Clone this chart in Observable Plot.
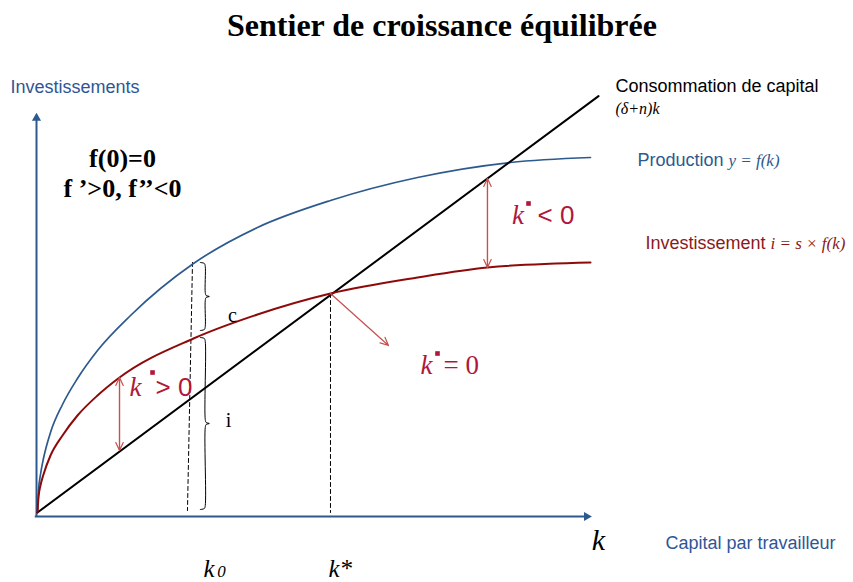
<!DOCTYPE html>
<html><head><meta charset="utf-8">
<script src="https://cdn.jsdelivr.net/npm/d3@7"></script>
<script src="https://cdn.jsdelivr.net/npm/@observablehq/plot@0.6"></script>
<style>
body{margin:0;background:#fff;width:853px;height:582px;overflow:hidden}
#title{height:50px;line-height:50px;text-align:center;padding-left:31px;font-family:"Liberation Serif","Times New Roman",serif;font-weight:bold;font-size:32px;color:#000;white-space:nowrap}
#chart svg{display:block}
</style></head><body>
<div id="title">Sentier de croissance équilibrée</div>
<div id="chart"></div>
<script>
// ---- data (k = capital per worker, v = amount, arbitrary units) ----
const kProd = [0, 0.18, 0.54, 1.08, 2.35, 4.52, 7.23, 10.85, 16.82, 28.21, 39.78, 52.98, 68.72, 85.53, 100];
const yProd = [0, 5.5, 9.5, 13.5, 20, 27, 33.5, 40.5, 49.25, 62.25, 71.25, 78, 83.75, 87.5, 88.75];
const kInv = [0, 0.18, 0.54, 1.08, 2.35, 4.52, 7.23, 10.85, 14.83, 28.21, 39.78, 52.98, 68.72, 81.37, 100];
const yInv = [0, 3.75, 6.75, 9.5, 14.25, 19.25, 24.25, 29.25, 33.75, 43.5, 49.5, 54.75, 58.75, 61.25, 62.5];
const kDep = [0, 101.45];
const yDep = [0, 104.1];

const kZero = [28.03, 27.12];   // k0 dashed guide (top, bottom)
const vZero = [62.5, 0.5];
const kStar = [52.98, 52.98];   // k* dashed guide
const vStar = [54.75, 0];

// braces: x, top, bottom
const braceX = [29.44, 29.44];
const braceTop = [62.5, 43.75];
const braceBottom = [45.5, 0.75];

// red arrows: x1,y1 -> x2,y2 (double headed ones drawn both ways)
const arrowK1 = [14.83, 81.37, 52.98];
const arrowV1 = [33.75, 83.5, 54.75];
const arrowK2 = [14.83, 81.37, 63.47];
const arrowV2 = [15.5, 61.25, 41.75];
const arrowDouble = [true, true, false];

// ---- build tables ----
const prod = kProd.map((k, i) => ({k, v: yProd[i]}));
const inv = kInv.map((k, i) => ({k, v: yInv[i]}));
const dep = kDep.map((k, i) => ({k, v: yDep[i]}));
const guides = [
  ...kZero.map((k, i) => ({g: "k0", k, v: vZero[i]})),
  ...kStar.map((k, i) => ({g: "ks", k, v: vStar[i]}))
];
const w = 1.63;
const braces = braceX.flatMap((x, b) => {
  const y0 = braceTop[b], y1 = braceBottom[b], ym = (y0 + y1) / 2;
  return [
    [x, y0], [x + 0.45 * w, y0 - 0.25], [x + 0.55 * w, y0 - 1.0],
    [x + 0.55 * w, ym + 1.0], [x + 0.65 * w, ym + 0.25], [x + w, ym],
    [x + 0.65 * w, ym - 0.25], [x + 0.55 * w, ym - 1.0],
    [x + 0.55 * w, y1 + 1.0], [x + 0.45 * w, y1 + 0.25], [x, y1]
  ].map(([px, py]) => ({b, k: px, v: py}));
});
const arrows = [];
arrowK1.forEach((k, i) => {
  arrows.push({x1: k, y1: arrowV1[i], x2: arrowK2[i], y2: arrowV2[i]});
  if (arrowDouble[i]) arrows.push({x1: arrowK2[i], y1: arrowV2[i], x2: k, y2: arrowV1[i]});
});

const BLUE = "#2D5A8E", AXIS = "#2C5A8C", RED = "#8E0A0A", ARROW = "#C4504F", KRED = "#B0173A";
const SANS = "Liberation Sans, Arial, sans-serif";
const SERIF = "Liberation Serif, Times New Roman, serif";

// k-dot labels
const kdot = [
  {k: 17.72, v: 31.25, dk: 20.8, dv: 35.0, rk: 21.34, rest: "> 0", font: SANS},
  {k: 86.89, v: 74.25, dk: 88.79, dv: 77.25, rk: 90.42, rest: "< 0", font: SANS},
  {k: 70.34, v: 36.75, dk: 72.33, dv: 39.75, rk: 73.42, rest: "= 0", font: SERIF}
];

const T = (arr, o) => Plot.text(arr, {x: "k", y: "v", text: "t", ...o});

const chart = Plot.plot({
  width: 853, height: 532,
  marginLeft: 37, marginRight: 263, marginTop: 62, marginBottom: 70,
  x: {domain: [0, 100], axis: null},
  y: {domain: [0, 100], axis: null},
  style: {overflow: "visible", background: "white"},
  marks: [
    // axes
    Plot.ruleX([-0.18], {y1: -1, y2: 98.2, stroke: AXIS, strokeWidth: 2}),
    Plot.ruleY([-1], {x1: -0.4, x2: 99.2, stroke: AXIS, strokeWidth: 2}),
    Plot.dot([{k: -0.18, v: 98.6}], {x: "k", y: "v", symbol: "triangle", r: 3.4, fill: AXIS, stroke: null}),
    Plot.dot([{k: 99.3, v: -1}], {x: "k", y: "v", symbol: "triangle", r: 3.4, rotate: 90, fill: AXIS, stroke: null}),
    // guides
    Plot.line(guides, {x: "k", y: "v", z: "g", stroke: "#000", strokeWidth: 1, strokeDasharray: "4,3"}),
    Plot.line(braces, {x: "k", y: "v", z: "b", stroke: "#000", strokeWidth: 1, curve: "catmull-rom"}),
    // curves
    Plot.line(prod, {x: "k", y: "v", stroke: BLUE, strokeWidth: 1.7, curve: "monotone-x"}),
    Plot.line(dep, {x: "k", y: "v", stroke: "#000", strokeWidth: 2}),
    Plot.line(inv, {x: "k", y: "v", stroke: RED, strokeWidth: 2, curve: "monotone-x"}),
    // arrows
    Plot.arrow(arrows, {x1: "x1", y1: "y1", x2: "x2", y2: "y2", stroke: ARROW, strokeWidth: 1.2, headLength: 11, headAngle: 50}),
    // texts
    T([{k: -4.88, v: 106.25, t: "Investissements"}], {textAnchor: "start", fill: "#2F5597", fontFamily: SANS, fontSize: 18}),
    T([{k: 15.37, v: 88.5, t: "f(0)=0"}, {k: 15.37, v: 81, t: "f ’>0, f’’<0"}], {fill: "#000", fontFamily: SERIF, fontWeight: "bold", fontSize: 26}),
    T([{k: 104.52, v: 106.5, t: "Consommation de capital"}], {textAnchor: "start", fill: "#000", fontFamily: SANS, fontSize: 18}),
    T([{k: 104.52, v: 101, t: "(δ+n)k"}], {textAnchor: "start", fill: "#000", fontFamily: SERIF, fontStyle: "italic", fontSize: 16}),
    T([{k: 108.5, v: 88, t: "Production"}], {textAnchor: "start", fill: BLUE, fontFamily: SANS, fontSize: 18}),
    T([{k: 124.95, v: 88, t: "y = f(k)"}], {textAnchor: "start", fill: BLUE, fontFamily: SERIF, fontStyle: "italic", fontSize: 17}),
    T([{k: 109.95, v: 67.25, t: "Investissement"}], {textAnchor: "start", fill: "#8B1A1A", fontFamily: SANS, fontSize: 18}),
    T([{k: 132.55, v: 67.25, t: "i = s × f(k)"}], {textAnchor: "start", fill: "#8B1A1A", fontFamily: SERIF, fontStyle: "italic", fontSize: 17}),
    T([{k: 113.56, v: -7.75, t: "Capital par travailleur"}], {textAnchor: "start", fill: "#2F5597", fontFamily: SANS, fontSize: 18}),
    T([{k: 101.45, v: -7, t: "k"}], {fill: "#000", fontFamily: SERIF, fontStyle: "italic", fontSize: 30}),
    T([{k: 30.02, v: -14, t: "k"}, {k: 52.62, v: -14, t: "k*"}], {textAnchor: "start", fill: "#000", fontFamily: SERIF, fontStyle: "italic", fontSize: 25}),
    T([{k: 32.5, v: -14.7, t: "0"}], {textAnchor: "start", fill: "#000", fontFamily: SERIF, fontStyle: "italic", fontSize: 17}),
    T([{k: 35.26, v: 49.25, t: "c"}, {k: 34.54, v: 23, t: "i"}], {fill: "#000", fontFamily: SERIF, fontSize: 20}),
    // k-dot labels
    Plot.text(kdot, {x: "k", y: "v", text: () => "k", fill: KRED, fontFamily: SERIF, fontStyle: "italic", fontSize: 27}),
    Plot.dot(kdot, {x: "dk", y: "dv", symbol: "square", r: 2.6, fill: KRED, stroke: null}),
    Plot.text(kdot.filter(d => d.font === SANS), {x: "rk", y: "v", text: "rest", textAnchor: "start", fill: KRED, fontFamily: SANS, fontSize: 26}),
    Plot.text(kdot.filter(d => d.font === SERIF), {x: "rk", y: "v", text: "rest", textAnchor: "start", fill: KRED, fontFamily: SERIF, fontSize: 27})
  ]
});
document.getElementById("chart").appendChild(chart);
</script>
</body></html>
